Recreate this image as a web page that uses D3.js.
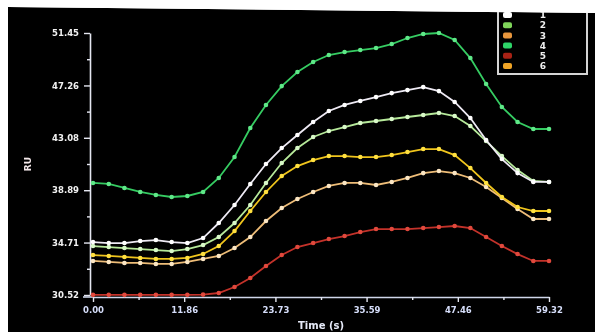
<!DOCTYPE html>
<html>
<head>
<meta charset="utf-8">
<script src="https://cdn.jsdelivr.net/npm/d3@7"></script>
<style>
  html, body { margin: 0; padding: 0; background: #fff; }
  svg { display: block; }
</style>
</head>
<body>
<svg></svg>
<script>
// time (s) of each sample
const times = [0.00, 2.05, 4.09, 6.14, 8.18, 10.23, 12.27, 14.32, 16.36, 18.41,
  20.46, 22.50, 24.55, 26.59, 28.64, 30.68, 32.73, 34.77, 36.82, 38.86,
  40.91, 42.96, 45.00, 47.05, 49.09, 51.14, 53.19, 55.23, 57.28, 59.32];

// RU per series
const s1 = [34.75, 34.67, 34.67, 34.83, 34.91, 34.75, 34.67, 35.07, 36.27, 37.71,
  39.39, 40.98, 42.26, 43.30, 44.34, 45.22, 45.70, 46.02, 46.33, 46.65,
  46.89, 47.13, 46.81, 45.94, 44.66, 42.90, 41.38, 40.26, 39.55, 39.55];
const s2 = [34.43, 34.35, 34.27, 34.19, 34.11, 34.03, 34.19, 34.51, 35.15, 36.27,
  37.71, 39.47, 41.06, 42.26, 43.14, 43.62, 43.94, 44.26, 44.42, 44.58,
  44.74, 44.90, 45.06, 44.82, 44.02, 42.82, 41.62, 40.50, 39.63, 39.55];
const s3 = [33.24, 33.16, 33.08, 33.08, 33.00, 33.00, 33.16, 33.40, 33.64, 34.27,
  35.15, 36.43, 37.47, 38.19, 38.75, 39.23, 39.47, 39.47, 39.31, 39.55,
  39.87, 40.26, 40.42, 40.26, 39.87, 39.15, 38.27, 37.39, 36.59, 36.59];
const s4 = [39.47, 39.39, 39.07, 38.75, 38.51, 38.35, 38.43, 38.75, 39.87, 41.54,
  43.86, 45.70, 47.21, 48.33, 49.13, 49.69, 49.93, 50.09, 50.25, 50.57,
  51.05, 51.37, 51.45, 50.89, 49.45, 47.37, 45.54, 44.34, 43.78, 43.78];
const s5 = [30.53, 30.53, 30.53, 30.53, 30.53, 30.53, 30.53, 30.55, 30.68, 31.16,
  31.88, 32.84, 33.72, 34.35, 34.67, 34.99, 35.23, 35.55, 35.79, 35.79,
  35.79, 35.87, 35.95, 36.03, 35.87, 35.15, 34.43, 33.79, 33.24, 33.24];
const s6 = [33.71, 33.64, 33.56, 33.48, 33.40, 33.40, 33.48, 33.80, 34.43, 35.63,
  37.23, 38.75, 40.03, 40.82, 41.30, 41.62, 41.62, 41.54, 41.54, 41.70,
  41.94, 42.18, 42.18, 41.70, 40.66, 39.47, 38.35, 37.55, 37.23, 37.23];

const seriesNames = ["1", "2", "3", "4", "5", "6"];
const yTicks = [30.52, 34.71, 38.89, 43.08, 47.26, 51.45];
const xTicks = [0.00, 11.86, 23.73, 35.59, 47.46, 59.32];

const series = [
  { name: "2", values: s2, line: "#b6e99a", dot: "#d8f8c8", key: "#7fd45a" },
  { name: "1", values: s1, line: "#eeeaf4", dot: "#ffffff", key: "#ffffff" },
  { name: "3", values: s3, line: "#eebd78", dot: "#fbe6c4", key: "#e8963c" },
  { name: "4", values: s4, line: "#36cc62", dot: "#5ee888", key: "#2fd468" },
  { name: "5", values: s5, line: "#c3322a", dot: "#e0483c", key: "#a82414" },
  { name: "6", values: s6, line: "#f0c51c", dot: "#ffe040", key: "#f0a428" }
];
const legendColor = {};
series.forEach(s => legendColor[s.name] = s.key);

const W = 595, H = 332;
const svg = d3.select("svg").attr("width", W).attr("height", H);

svg.append("rect").attr("width", W).attr("height", H).attr("fill", "#fff");
svg.append("polygon")
  .attr("points", "8,7 595,13 595,332 8,332")
  .attr("fill", "#000");

const defs = svg.append("defs");
defs.append("filter").attr("id", "soft")
  .append("feGaussianBlur").attr("stdDeviation", 0.5);

const g = svg.append("g").attr("filter", "url(#soft)");

const x = d3.scaleLinear().domain([0, 59.32]).range([93, 549]);
const y = d3.scaleLinear().domain([30.52, 51.45]).range([295, 33]);

// y axis
const yAxis = g.append("g")
  .attr("transform", "translate(90,0)")
  .call(d3.axisLeft(y).tickValues(yTicks).tickSize(6).tickSizeOuter(0)
    .tickPadding(5).tickFormat(d3.format(".2f")));
g.append("g")
  .attr("transform", "translate(90,0)")
  .call(d3.axisLeft(y).tickValues(d3.pairs(yTicks, (a, b) => (a + b) / 2))
    .tickSize(3).tickSizeOuter(0).tickFormat(""))
  .select(".domain").remove();

// x axis
const xAxis = g.append("g")
  .attr("transform", "translate(0,297)")
  .call(d3.axisBottom(x).tickValues(xTicks).tickSize(5).tickSizeOuter(0)
    .tickPadding(5).tickFormat(d3.format(".2f")));
g.append("g")
  .attr("transform", "translate(0,297)")
  .call(d3.axisBottom(x).tickValues(d3.pairs(xTicks, (a, b) => (a + b) / 2))
    .tickSize(3).tickSizeOuter(0).tickFormat(""))
  .select(".domain").remove();
g.append("line")
  .attr("x1", 83).attr("x2", 93).attr("y1", 297).attr("y2", 297)
  .attr("stroke", "#cfd6ea").attr("stroke-width", 1.6);

g.selectAll(".domain").attr("stroke", "#e4e6f0").attr("stroke-width", 1.6);
g.selectAll(".tick line").attr("stroke", "#e4e6f0").attr("stroke-width", 1.4);
xAxis.select(".domain").attr("stroke", "#cfd6ea");
yAxis.selectAll("text")
  .attr("fill", "#f2f2f2").style("font", "bold 8.5px 'DejaVu Sans'");
xAxis.selectAll("text")
  .attr("fill", "#d6defa").style("font", "bold 8.5px 'DejaVu Sans'");

// axis titles
g.append("text")
  .attr("transform", "translate(31,164) rotate(-90)")
  .attr("text-anchor", "middle")
  .attr("fill", "#f4e8ea")
  .style("font", "bold 9px 'DejaVu Sans'")
  .text("RU");

g.append("text")
  .attr("x", 321).attr("y", 329)
  .attr("text-anchor", "middle")
  .attr("fill", "#e6eaf8")
  .style("font", "bold 10px 'DejaVu Sans'")
  .text("Time (s)");

// lines
const line = d3.line()
  .x((d, i) => x(times[i]))
  .y(d => y(d));

series.forEach(s => {
  g.append("path")
    .datum(s.values)
    .attr("fill", "none")
    .attr("stroke", s.line)
    .attr("stroke-width", 1.8)
    .attr("d", line);

  g.selectAll(null)
    .data(s.values)
    .enter().append("circle")
    .attr("cx", (d, i) => x(times[i]))
    .attr("cy", d => y(d))
    .attr("r", 2.3)
    .attr("fill", s.dot);
});

// legend
const ly = d3.scalePoint().domain(seriesNames).range([15, 66]);
g.append("rect")
  .attr("x", 498).attr("y", 2).attr("width", 89).attr("height", 72)
  .attr("fill", "none").attr("stroke", "#d4d4d4").attr("stroke-width", 2);

const item = g.selectAll(".legend-item")
  .data(seriesNames)
  .enter().append("g")
  .attr("class", "legend-item")
  .attr("transform", d => `translate(0,${ly(d)})`);

item.append("rect")
  .attr("x", 503).attr("y", -3).attr("width", 9).attr("height", 6)
  .attr("rx", 2)
  .attr("fill", d => legendColor[d]);

item.append("text")
  .attr("x", 543).attr("dy", "0.35em")
  .attr("text-anchor", "middle")
  .attr("fill", "#eeeeee")
  .style("font", "bold 9px 'DejaVu Sans'")
  .text(d => d);

// white frame of the photo
svg.append("polygon")
  .attr("points", "0,0 595,0 595,13 8,7 8,332 0,332")
  .attr("fill", "#fff");
</script>
</body>
</html>
